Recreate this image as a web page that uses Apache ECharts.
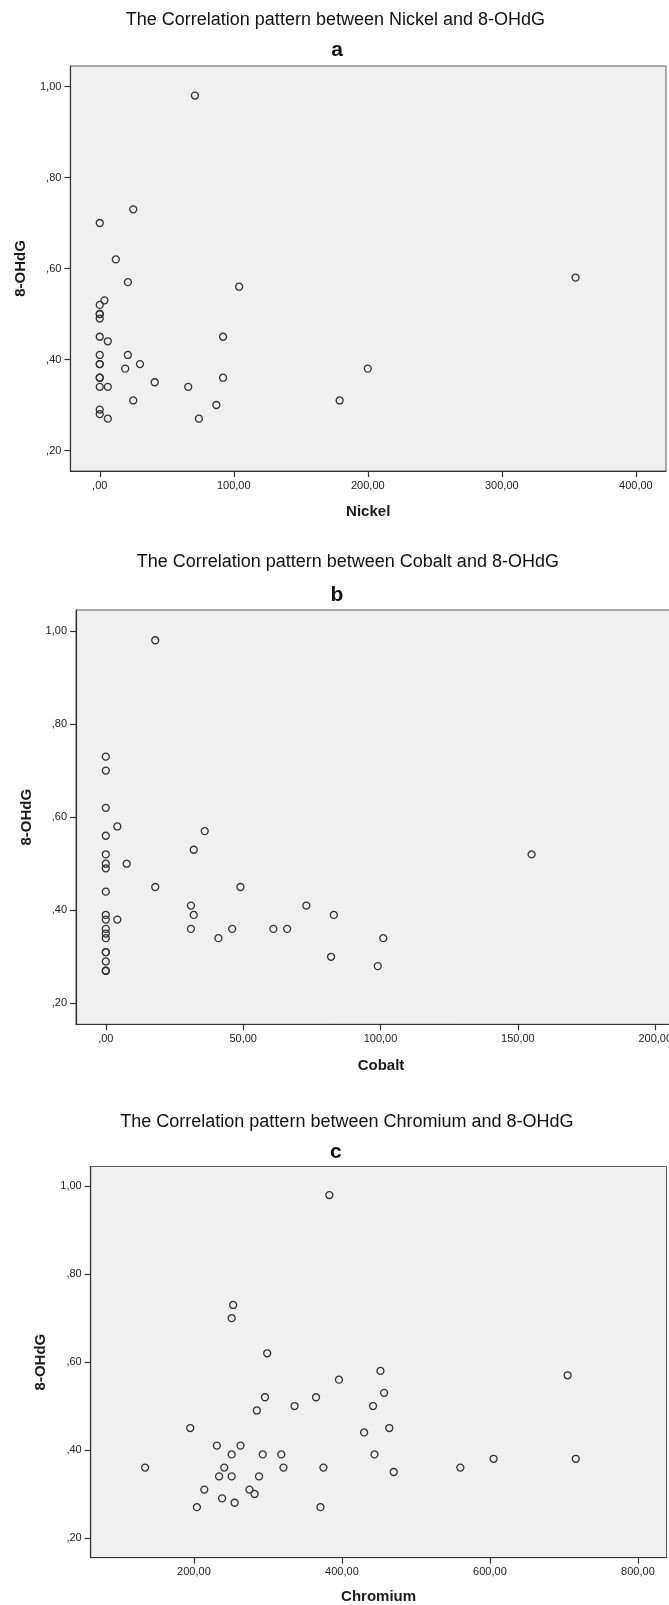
<!DOCTYPE html>
<html>
<head>
<meta charset="utf-8">
<script src="https://cdn.jsdelivr.net/npm/echarts@6/dist/echarts.min.js"></script>
<style>
html,body{margin:0;padding:0;background:#fff;}
#main{width:669px;height:1605px;}
</style>
</head>
<body>
<div id="main"></div>
<script>
// ---- Data ----
const yTicks = [0.2, 0.4, 0.6, 0.8, 1.0];

const nickelTicks = [0, 100, 200, 300, 400];
const nickelX = [71, 25, 0, 12, 21, 104, 355, 3.5, 0, 0, 0, 0, 0, 6, 92, 0, 21, 0, 0, 30, 19, 200, 0, 0, 92, 41, 0, 6, 66, 25, 179, 87, 0, 0, 6, 74];
const nickelY = [0.98, 0.73, 0.70, 0.62, 0.57, 0.56, 0.58, 0.53, 0.52, 0.50, 0.50, 0.49, 0.45, 0.44, 0.45, 0.41, 0.41, 0.39, 0.39, 0.39, 0.38, 0.38, 0.36, 0.36, 0.36, 0.35, 0.34, 0.34, 0.34, 0.31, 0.31, 0.30, 0.29, 0.28, 0.27, 0.27];

const cobaltTicks = [0, 50, 100, 150, 200];
const cobaltX = [18, 0, 0, 0, 4.2, 36, 0, 32, 0, 155, 0, 0, 7.6, 18, 49, 0, 31, 73, 0, 32, 83, 0, 4.2, 0, 31, 46, 61, 66, 0, 0, 41, 101, 0, 0, 82, 0, 99, 0, 0];
const cobaltY = [0.98, 0.73, 0.70, 0.62, 0.58, 0.57, 0.56, 0.53, 0.52, 0.52, 0.50, 0.49, 0.50, 0.45, 0.45, 0.44, 0.41, 0.41, 0.39, 0.39, 0.39, 0.38, 0.38, 0.36, 0.36, 0.36, 0.36, 0.36, 0.35, 0.34, 0.34, 0.34, 0.31, 0.31, 0.30, 0.29, 0.28, 0.27, 0.27];

const chromiumTicks = [200, 400, 600, 800];
const chromiumX = [383, 253, 251, 299, 452, 705, 396, 457, 296, 365, 336, 442, 285, 195, 464, 430, 231, 263, 251, 293, 318, 444, 605, 716, 134, 241, 321, 375, 560, 470, 234, 251, 288, 214, 275, 282, 238, 255, 204, 371];
const chromiumY = [0.98, 0.73, 0.70, 0.62, 0.58, 0.57, 0.56, 0.53, 0.52, 0.52, 0.50, 0.50, 0.49, 0.45, 0.45, 0.44, 0.41, 0.41, 0.39, 0.39, 0.39, 0.39, 0.38, 0.38, 0.36, 0.36, 0.36, 0.36, 0.36, 0.35, 0.34, 0.34, 0.34, 0.31, 0.31, 0.30, 0.29, 0.28, 0.27, 0.27];

const titles = [
  'The Correlation pattern between Nickel and 8-OHdG',
  'The Correlation pattern between Cobalt and 8-OHdG',
  'The Correlation pattern between Chromium and 8-OHdG'
];
const letters = ['a', 'b', 'c'];
const xNames = ['Nickel', 'Cobalt', 'Chromium'];
const yName = '8-OHdG';

// ---- Build chart ----
const FONT = '"Liberation Sans", Arial, sans-serif';
function fmt(v) {
  let s = Number(v).toFixed(2).replace('.', ',');
  if (s.startsWith('0,')) s = s.slice(1);
  return s;
}
function pairs(xs, ys) { return xs.map((x, i) => [x, ys[i]]); }

const grids = [
  {left: 70.4, top: 66, width: 595.6, height: 405},
  {left: 76, top: 610, width: 610, height: 414.3},
  {left: 90.7, top: 1166.5, width: 575.8, height: 391.2}
];
const xRanges = [[-21.9, 422.5], [-10.85, 211.2], [60.5, 838.6]];
const xTickSets = [nickelTicks, cobaltTicks, chromiumTicks];
const xNameGaps = [33, 34, 31.5];
const seriesData = [pairs(nickelX, nickelY), pairs(cobaltX, cobaltY), pairs(chromiumX, chromiumY)];

const titlePos = [[335.4, 20.5], [347.8, 562], [346.9, 1122.3]];
const letterPos = [[337, 50], [337, 595.3], [335.8, 1152]];

const option = {
  animation: false,
  backgroundColor: '#ffffff',
  grid: grids.map(g => Object.assign({
    show: true, backgroundColor: '#f0f0f0', borderColor: '#5a5a5a', borderWidth: 1,
    containLabel: false, outerBoundsMode: 'none'
  }, g)),
  xAxis: grids.map((g, i) => ({
    type: 'value', gridIndex: i, min: xRanges[i][0], max: xRanges[i][1],
    name: xNames[i], nameLocation: 'middle', nameGap: xNameGaps[i],
    nameTextStyle: {fontFamily: FONT, fontSize: 15, fontWeight: 'bold', color: '#1a1a1a'},
    axisLine: {show: true, onZero: false, lineStyle: {color: '#333', width: 1.2}},
    axisTick: {show: true, inside: false, length: 6, customValues: xTickSets[i], lineStyle: {color: '#333', width: 1.2}},
    axisLabel: {show: true, margin: 9, customValues: xTickSets[i], formatter: fmt,
      fontFamily: FONT, fontSize: 11, color: '#222', hideOverlap: false, showMinLabel: true, showMaxLabel: true},
    splitLine: {show: false}
  })),
  yAxis: grids.map((g, i) => ({
    type: 'value', gridIndex: i, min: 0.155, max: 1.045,
    name: yName, nameLocation: 'middle', nameGap: 42, nameRotate: 90,
    nameTextStyle: {fontFamily: FONT, fontSize: 15, fontWeight: 'bold', color: '#1a1a1a'},
    axisLine: {show: true, onZero: false, lineStyle: {color: '#333', width: 1.2}},
    axisTick: {show: true, inside: false, length: 6, customValues: yTicks, lineStyle: {color: '#333', width: 1.2}},
    axisLabel: {show: true, margin: 9, customValues: yTicks, formatter: fmt,
      fontFamily: FONT, fontSize: 11, color: '#222'},
    splitLine: {show: false}
  })),
  series: seriesData.map((d, i) => ({
    type: 'scatter', xAxisIndex: i, yAxisIndex: i, data: d,
    symbol: 'circle', symbolSize: 7,
    itemStyle: {color: 'rgba(0,0,0,0)', borderColor: '#333', borderWidth: 1.3, opacity: 1},
    emphasis: {disabled: true}
  })),
  graphic: [].concat(
    titles.map((t, i) => ({
      type: 'text', x: titlePos[i][0], y: titlePos[i][1], silent: true,
      style: {text: t, fontFamily: FONT, fontSize: 18, fill: '#111',
        align: 'center', verticalAlign: 'middle', textAlign: 'center', textVerticalAlign: 'middle'}
    })),
    letters.map((t, i) => ({
      type: 'text', x: letterPos[i][0], y: letterPos[i][1], silent: true,
      style: {text: t, fontFamily: FONT, fontSize: 21, fontWeight: 'bold', fill: '#111',
        align: 'center', verticalAlign: 'middle', textAlign: 'center', textVerticalAlign: 'middle'}
    }))
  )
};

const chart = echarts.init(document.getElementById('main'), null, {renderer: 'canvas', width: 669, height: 1605});
chart.setOption(option);
</script>
</body>
</html>
